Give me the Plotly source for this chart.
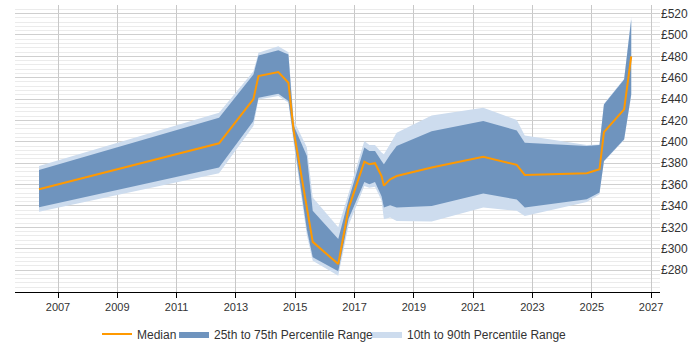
import plotly.graph_objects as go

dates = [2006.36, 2012.43, 2013.59, 2013.76, 2014.43, 2014.77, 2014.95, 2015.39, 2015.59,
         2016.45, 2016.8, 2017.33, 2017.5, 2017.69, 2017.91, 2017.99, 2018.2, 2018.42,
         2019.6, 2021.34, 2022.47, 2022.74, 2024.83, 2025.26, 2025.41, 2026.09, 2026.33]
median = [355.6, 398.6, 440, 461.5, 465.2, 455.3, 410, 340, 306.4,
          285.6, 338, 381.5, 379, 380, 368, 359, 365, 368,
          376, 386, 378.5, 369, 370.6, 374.3, 409, 430.3, 480]
p75 = [373.7, 422.6, 463, 480.8, 485.7, 481.7, 415, 387, 335.4,
       309, 346, 394.6, 391.4, 391.4, 382, 379, 388, 396,
       410, 419.4, 410.7, 399.2, 396, 397, 435, 458.4, 514.4]
p25 = [338.8, 375.9, 419.4, 441.3, 445, 438.1, 403, 318, 292,
       279, 328, 362.4, 360.3, 362.4, 349, 338.5, 340.7, 338.5,
       340, 351.6, 346, 338.5, 346.3, 352.6, 382.1, 402.3, 444.4]
p90 = [377.4, 427.3, 466, 483.3, 489.5, 483.9, 420, 395, 348,
       320, 352, 400.7, 397, 397, 390, 388.3, 398, 408.6,
       424.7, 431.9, 420.4, 406, 397, 397.5, 435.5, 459, 517]
p10 = [334.5, 370.6, 414.8, 439.7, 442.8, 436.6, 398, 313, 288.7,
       274.7, 322, 358.7, 357, 358, 345, 327.6, 329.2, 326,
       325.5, 338.5, 335.4, 330.7, 343.8, 351, 381.5, 401.8, 443]

year_ticks = list(range(2007, 2028, 2))
price_ticks = list(range(280, 521, 20))

DARK = "#6f94be"
LIGHT = "#cddcee"
ORANGE = "#ff9900"
FONT = "Arial, Liberation Sans, sans-serif"

fig = go.Figure()
fig.add_trace(go.Scatter(x=dates, y=p90, mode="lines", line=dict(width=0, color=LIGHT),
                         showlegend=False, hoverinfo="skip"))
fig.add_trace(go.Scatter(x=dates, y=p10, mode="lines", line=dict(width=0, color=LIGHT),
                         fill="tonexty", fillcolor=LIGHT,
                         name="10th to 90th Percentile Range", legend="legend3"))
fig.add_trace(go.Scatter(x=dates, y=p75, mode="lines", line=dict(width=0, color=DARK),
                         showlegend=False, hoverinfo="skip"))
fig.add_trace(go.Scatter(x=dates, y=p25, mode="lines", line=dict(width=0, color=DARK),
                         fill="tonexty", fillcolor=DARK,
                         name="25th to 75th Percentile Range", legend="legend2"))
fig.add_trace(go.Scatter(x=dates, y=median, mode="lines", line=dict(width=2, color=ORANGE),
                         name="Median", legend="legend"))

# plot area spans pixels 15..660 horizontally
def px_to_paper(px):
    return (px - 15) / 645.0

leg_common = dict(orientation="h", yanchor="middle", y=-0.146, xanchor="left",
                  font=dict(size=12, color="#333333"), itemwidth=30,
                  bgcolor="rgba(0,0,0,0)")

fig.update_layout(
    width=700, height=350,
    margin=dict(l=15, r=40, t=5, b=58, autoexpand=False),
    paper_bgcolor="white", plot_bgcolor="white",
    font=dict(family=FONT, size=12, color="#333333"),
    legend=dict(x=px_to_paper(97), **leg_common),
    legend2=dict(x=px_to_paper(174), **leg_common),
    legend3=dict(x=px_to_paper(367), **leg_common),
    xaxis=dict(range=[2005.55, 2027.3], tickvals=year_ticks, ticktext=[str(y) for y in year_ticks],
               showgrid=True, gridcolor="#c8c8c8", gridwidth=1,
               showline=True, linecolor="#000000", linewidth=1,
               ticks="outside", ticklen=5, tickcolor="#000000",
               tickfont=dict(size=11, color="#333333"), zeroline=False),
    yaxis=dict(range=[259.5, 528], side="right", tickvals=price_ticks,
               ticktext=["£%d" % v for v in price_ticks],
               showgrid=True, gridcolor="#cfcfcf", gridwidth=1,
               minor=dict(dtick=4, tick0=0, showgrid=True, gridcolor="#ebebeb", gridwidth=1),
               showline=False, zeroline=False, ticks="",
               tickfont=dict(size=12, color="#333333")),
)

fig.write_html("out.html")
